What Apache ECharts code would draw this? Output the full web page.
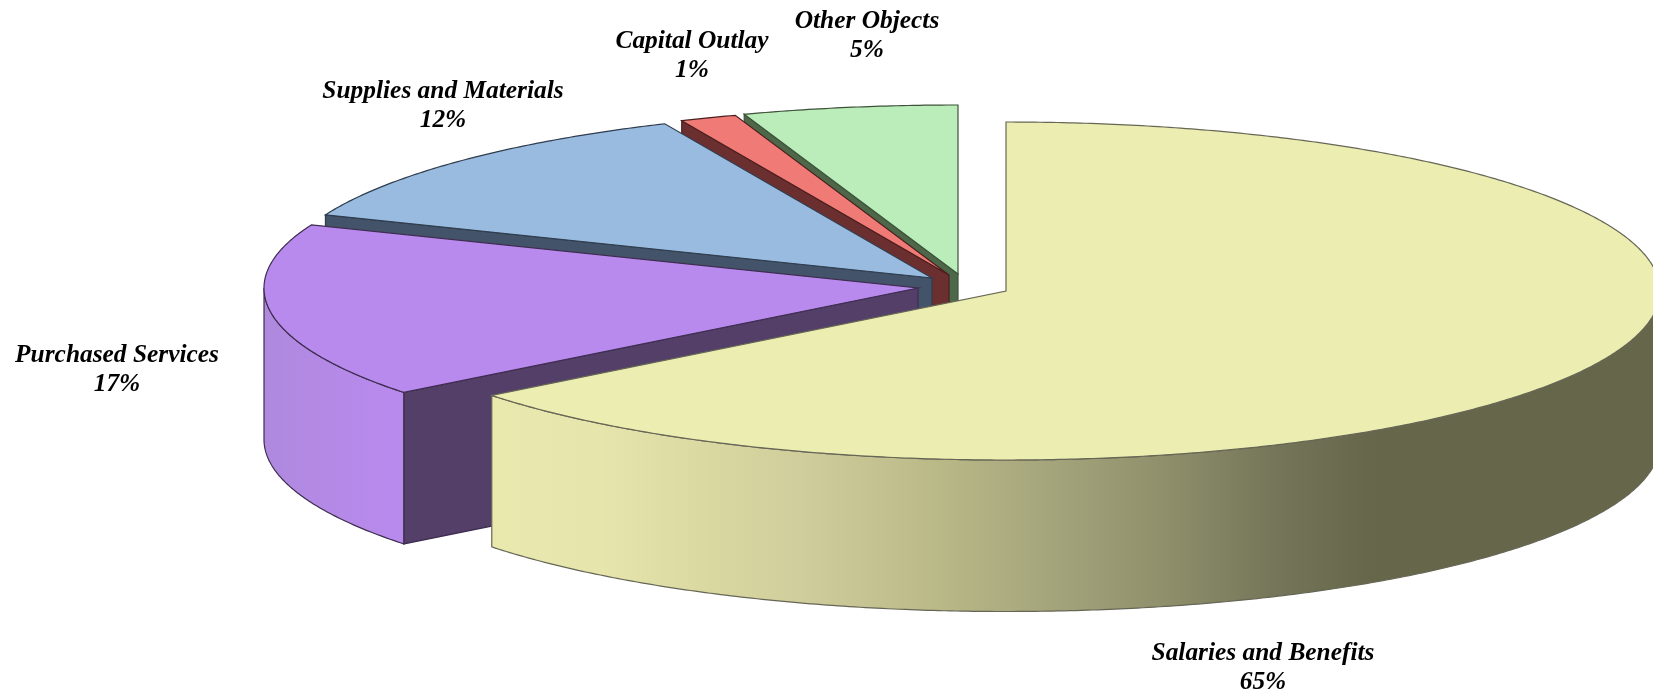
<!DOCTYPE html>
<html>
<head>
<meta charset="utf-8">
<title>Expenditures by object</title>
<style>
  html, body { margin: 0; background: #fff; }
  #chart { width: 1653px; height: 697px; }
</style>
<script src="https://cdn.jsdelivr.net/npm/echarts@6/dist/echarts.min.js"></script>
</head>
<body>
<div id="chart"></div>
<script>
  // shares, the printed labels are rounded by the source
  const categories = ['Salaries and Benefits', 'Purchased Services', 'Supplies and Materials', 'Capital Outlay', 'Other Objects']
  const values = [64.4, 16.7, 12.2, 1.4, 5.3]
  const percentLabels = ['65%', '17%', '12%', '1%', '5%']

  // layout of the tilted disc
  const RX = 654
  const RY = 169
  const DEPTH = 151.5
  const sliceCenters = [[1006, 291], [918, 288], [932, 278], [949, 275], [958, 274]]
  const labelCenters = [[1263, 639], [117, 341], [443, 77], [692, 27], [867, 7]]

  const topColors = ['#ecedb0', '#b98aee', '#99bbe0', '#f07a76', '#bbedbb']
  const cutColors = ['#66674a', '#533f68', '#43546a', '#6b2f2f', '#4d6849']
  const lineColors = ['#666656', '#3e2d50', '#2f3d4e', '#4a1f1f', '#3d5239']
  const wallStops = [
    [[0, '#e9e9ae'], [0.125, '#e6e5ac'], [0.24, '#dad9a2'], [0.355, '#cfcd9b'], [0.51, '#b9b887'], [0.644, '#a3a37b'], [0.765, '#8f8f6b'], [0.885, '#76775a'], [1, '#66674a']],
    [[0, '#ae89dd'], [0.4, '#b389e5'], [1, '#b98aee']]
  ]
  const wallRange = [[491, 1372], [265, 404]]

  const chart = echarts.init(document.getElementById('chart'))

  function pt(c, deg, drop) {
    const t = deg * Math.PI / 180
    return [c[0] + RX * Math.sin(t), c[1] - RY * Math.cos(t) + (drop || 0)]
  }

  function arc(c, from, to, drop) {
    const pts = []
    const n = Math.max(2, Math.ceil(Math.abs(to - from) * 2))
    for (let k = 0; k <= n; k++) {
      pts.push(pt(c, from + (to - from) * k / n, drop))
    }
    return pts
  }

  function renderSlice(params, api) {
    const value = api.value(0)
    const i = api.value(1)
    const total = values.reduce((a, b) => a + b, 0)
    const before = values.slice(0, i).reduce((a, b) => a + b, 0)
    const start = before / total * 360
    const end = start + value / total * 360
    const c = sliceCenters[i]
    const line = { stroke: lineColors[i], lineWidth: 1.2 }
    const children = []

    // cut face along the start edge, the first slice shows it edge on
    if (i > 0) {
      const e = pt(c, start)
      children.push({
        type: 'polygon',
        shape: { points: [c, e, [e[0], e[1] + DEPTH], [c[0], c[1] + DEPTH]] },
        style: Object.assign({ fill: cutColors[i] }, line)
      })
    }

    // outer wall, only the front half of the rim faces the viewer
    const wallFrom = Math.max(start, 90)
    const wallTo = Math.min(end, 270)
    if (wallTo > wallFrom) {
      const stops = wallStops[i].map(s => ({ offset: s[0], color: s[1] }))
      children.push({
        type: 'polygon',
        shape: { points: arc(c, wallFrom, wallTo).concat(arc(c, wallTo, wallFrom, DEPTH)) },
        style: Object.assign({
          fill: new echarts.graphic.LinearGradient(wallRange[i][0], 0, wallRange[i][1], 0, stops, true)
        }, line)
      })
    }

    children.push({
      type: 'polygon',
      shape: { points: [c].concat(arc(c, start, end)) },
      style: Object.assign({ fill: topColors[i] }, line)
    })

    children.push({
      type: 'text',
      x: labelCenters[i][0],
      y: labelCenters[i][1],
      style: {
        text: categories[i] + '\n' + percentLabels[i],
        fontFamily: 'Liberation Serif',
        fontWeight: 'bold',
        fontStyle: 'italic',
        fontSize: 25.4,
        lineHeight: 29,
        fill: '#000',
        align: 'center',
        verticalAlign: 'top'
      }
    })

    return { type: 'group', children: children }
  }

  // back slices first so the front ones cover them
  const drawOrder = [4, 3, 2, 1, 0]

  chart.setOption({
    backgroundColor: '#fff',
    animation: false,
    series: [{
      type: 'custom',
      coordinateSystem: 'none',
      renderItem: renderSlice,
      data: drawOrder.map(i => ({ name: categories[i], value: [values[i], i] }))
    }]
  })
</script>
</body>
</html>
